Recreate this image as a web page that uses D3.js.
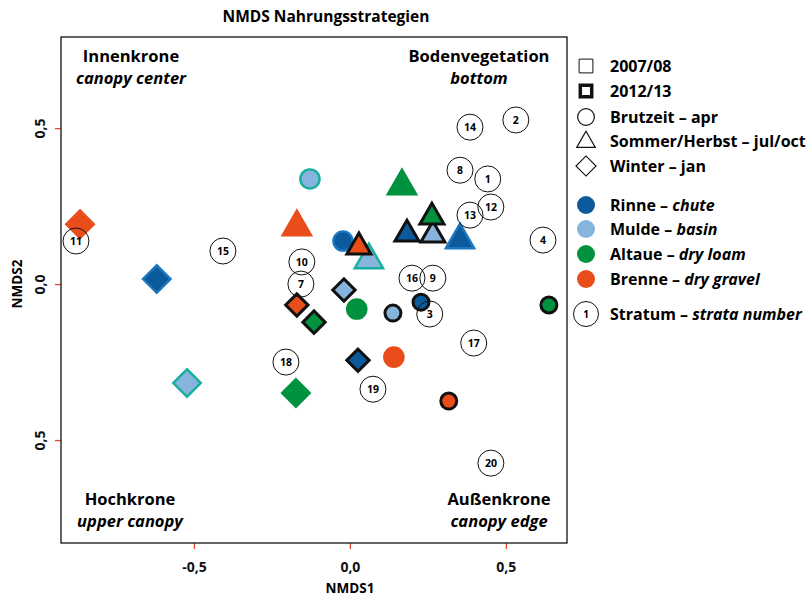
<!DOCTYPE html>
<html>
<head>
<meta charset="utf-8">
<script src="https://cdn.jsdelivr.net/npm/d3@7"></script>
<style>
  body { margin: 0; background: #fff; }
  svg { font-family: "Open Sans", "Noto Sans", sans-serif; }
</style>
</head>
<body>
<svg width="810" height="599"></svg>
<script>
// habitats and colours
var habitats = ["Rinne", "Mulde", "Altaue", "Brenne"];
var habitatEn = ["chute", "basin", "dry loam", "dry gravel"];
var fillColor = { Rinne: "#0b5a9b", Mulde: "#86b4dc", Altaue: "#00923f", Brenne: "#e94d1a" };
var rimColor = { Rinne: "#1c77bf", Mulde: "#16ae9c", Altaue: "#00923f", Brenne: "#e94d1a" };

// NMDS scores per season: [habitat, year, NMDS1, NMDS2]
var brutzeit = [
  ["Mulde", "2007/08", -0.128, 0.337],
  ["Rinne", "2007/08", -0.022, 0.138],
  ["Altaue", "2007/08", 0.022, -0.080],
  ["Brenne", "2007/08", 0.141, -0.234],
  ["Mulde", "2012/13", 0.138, -0.093],
  ["Rinne", "2012/13", 0.228, -0.058],
  ["Altaue", "2012/13", 0.638, -0.067],
  ["Brenne", "2012/13", 0.317, -0.375]
];
var sommer = [
  ["Brenne", "2007/08", -0.170, 0.183],
  ["Mulde", "2007/08", 0.061, 0.077],
  ["Altaue", "2007/08", 0.167, 0.314],
  ["Rinne", "2007/08", 0.353, 0.141],
  ["Brenne", "2012/13", 0.029, 0.119],
  ["Rinne", "2012/13", 0.183, 0.160],
  ["Mulde", "2012/13", 0.266, 0.157],
  ["Altaue", "2012/13", 0.263, 0.215]
];
var winter = [
  ["Brenne", "2007/08", -0.865, 0.192],
  ["Rinne", "2007/08", -0.619, 0.016],
  ["Mulde", "2007/08", -0.522, -0.317],
  ["Altaue", "2007/08", -0.173, -0.349],
  ["Brenne", "2012/13", -0.170, -0.067],
  ["Altaue", "2012/13", -0.115, -0.122],
  ["Mulde", "2012/13", -0.019, -0.019],
  ["Rinne", "2012/13", 0.026, -0.244]
];

// strata numbers: [number, NMDS1, NMDS2]
var strata = [
  [1, 0.442, 0.337], [2, 0.532, 0.526], [3, 0.256, -0.096], [4, 0.619, 0.141],
  [7, -0.157, 0.000], [8, 0.353, 0.365], [9, 0.266, 0.019], [10, -0.154, 0.071],
  [11, -0.878, 0.138], [12, 0.452, 0.247], [13, 0.385, 0.221], [14, 0.385, 0.503],
  [15, -0.407, 0.106], [16, 0.199, 0.019], [17, 0.397, -0.189], [18, -0.205, -0.250],
  [19, 0.074, -0.337], [20, 0.452, -0.574]
];

var xTicks = [-0.5, 0, 0.5];
var xTickLabels = ["-0,5", "0,0", "0,5"];
var yTicks = [0.5, 0, -0.5];
var yTickLabels = ["0,5", "0,0", "0,5"];

var svg = d3.select("svg");
var plot = { left: 61, top: 37, right: 567, bottom: 543 };

var x = d3.scaleLinear().domain([-0.926, 0.696]).range([plot.left, plot.right]);
var y = d3.scaleLinear().domain([-0.830, 0.792]).range([plot.bottom, plot.top]);

svg.append("text")
    .attr("x", 326).attr("y", 22)
    .attr("text-anchor", "middle")
    .attr("font-size", 15.5).attr("font-weight", 700)
    .text("NMDS Nahrungsstrategien");

// axes with red ticks
var xAxis = svg.append("g")
    .attr("transform", "translate(0," + plot.bottom + ")")
    .call(d3.axisBottom(x).tickValues(xTicks).tickSize(6).tickPadding(8)
        .tickFormat((d, i) => xTickLabels[i]));
var yAxis = svg.append("g")
    .attr("transform", "translate(" + plot.left + ",0)")
    .call(d3.axisLeft(y).tickValues(yTicks).tickSize(6).tickPadding(8)
        .tickFormat((d, i) => yTickLabels[i]));

[xAxis, yAxis].forEach(g => {
    g.select(".domain").remove();
    g.selectAll(".tick line").attr("stroke", "#e8472b").attr("stroke-width", 1.3);
    g.selectAll(".tick text").attr("font-size", 14).attr("font-weight", 700)
        .attr("font-family", "Open Sans").attr("fill", "#111");
});
yAxis.selectAll(".tick text")
    .attr("text-anchor", "middle")
    .attr("dy", null)
    .attr("x", null)
    .attr("transform", "translate(-16,0) rotate(-90)");
xAxis.selectAll(".tick text").attr("dy", "1.1em");

svg.append("rect")
    .attr("x", plot.left).attr("y", plot.top)
    .attr("width", plot.right - plot.left).attr("height", plot.bottom - plot.top)
    .attr("fill", "none").attr("stroke", "#111").attr("stroke-width", 1.3);

svg.append("text")
    .attr("x", 350).attr("y", 593)
    .attr("text-anchor", "middle")
    .attr("font-size", 13.5).attr("font-weight", 700)
    .text("NMDS1");
svg.append("text")
    .attr("transform", "translate(22,284) rotate(-90)")
    .attr("text-anchor", "middle")
    .attr("font-size", 13.5).attr("font-weight", 700)
    .text("NMDS2");

// corner labels
var corners = [
  ["Innenkrone", "canopy center", 131, 62],
  ["Bodenvegetation", "bottom", 479, 62],
  ["Hochkrone", "upper canopy", 130, 505],
  ["Außenkrone", "canopy edge", 499, 505]
];
corners.forEach(c => {
    var t = svg.append("text").attr("text-anchor", "middle").attr("font-size", 16.5);
    t.append("tspan").attr("x", c[2]).attr("y", c[3]).attr("font-weight", 700).text(c[0]);
    t.append("tspan").attr("x", c[2]).attr("y", c[3] + 22).attr("font-style", "italic")
        .attr("font-weight", 700).text(c[1]);
});

// marker shapes
function shapePath(shape, thick) {
    if (shape == "circle") return d3.symbol(d3.symbolCircle, thick ? 200 : 290)();
    if (shape == "triangle") return d3.symbol(d3.symbolTriangle, thick ? 250 : 350)();
    return d3.symbol(d3.symbolSquare, thick ? 250 : 380)();
}

var seasons = [["circle", brutzeit], ["triangle", sommer], ["diamond", winter]];
var marks = [];
seasons.forEach(s => s[1].forEach(d => marks.push({
    shape: s[0], habitat: d[0], year: d[1], x: d[2], y: d[3]
})));
// thin ones below, thick ones on top
marks.sort((a, b) => (a.year > b.year) - (a.year < b.year));

svg.append("g").selectAll("path")
    .data(marks)
    .join("path")
    .attr("d", d => shapePath(d.shape, d.year == "2012/13"))
    .attr("transform", d => "translate(" + x(d.x) + "," + y(d.y) + ")" + (d.shape == "diamond" ? " rotate(45)" : ""))
    .attr("fill", d => fillColor[d.habitat])
    .attr("stroke", d => d.year == "2012/13" ? "#111" : rimColor[d.habitat])
    .attr("stroke-width", d => d.year == "2012/13" ? 3 : 2.4)
    .attr("stroke-linejoin", "miter");

// strata circles
var st = svg.append("g").selectAll("g")
    .data(strata)
    .join("g")
    .attr("transform", d => "translate(" + x(d[1]) + "," + y(d[2]) + ")");
st.append("circle").attr("r", 13).attr("fill", "none").attr("stroke", "#111").attr("stroke-width", 1);
st.append("text")
    .attr("text-anchor", "middle").attr("dy", "0.36em")
    .attr("font-size", 10.5).attr("font-weight", 700)
    .text(d => d[0]);

// legend
var legend = svg.append("g").attr("font-size", 16).attr("font-weight", 700);
var lx = 586, tx = 610;

var legendShapes = [
  { label: "2007/08", y: 66, shape: "square", sw: 1 },
  { label: "2012/13", y: 91, shape: "square", sw: 3.5 },
  { label: "Brutzeit – apr", y: 117, shape: "circle", sw: 1.2 },
  { label: "Sommer/Herbst – jul/oct", y: 141, shape: "triangle", sw: 1.2 },
  { label: "Winter – jan", y: 166, shape: "diamond", sw: 1.2 }
];
legendShapes.forEach(l => {
    var p = legend.append("path").attr("fill", "none").attr("stroke", "#111").attr("stroke-width", l.sw);
    if (l.shape == "square") p.attr("d", d3.symbol(d3.symbolSquare, l.sw > 2 ? 130 : 190)()).attr("transform", "translate(" + lx + "," + l.y + ")");
    if (l.shape == "circle") p.attr("d", d3.symbol(d3.symbolCircle, 220)()).attr("transform", "translate(" + lx + "," + l.y + ")");
    if (l.shape == "triangle") p.attr("d", d3.symbol(d3.symbolTriangle, 150)()).attr("transform", "translate(" + lx + "," + (l.y + 1) + ")");
    if (l.shape == "diamond") p.attr("d", d3.symbol(d3.symbolSquare, 200)()).attr("transform", "translate(" + lx + "," + l.y + ") rotate(45)");
    legend.append("text").attr("x", tx).attr("y", l.y).attr("dy", "0.35em").text(l.label);
});

var habY = [205, 229, 254, 279];
habitats.forEach((h, i) => {
    legend.append("circle").attr("cx", lx).attr("cy", habY[i]).attr("r", 9).attr("fill", fillColor[h]);
    var t = legend.append("text").attr("x", tx).attr("y", habY[i]).attr("dy", "0.35em");
    t.append("tspan").text(h + " – ");
    t.append("tspan").attr("font-style", "italic").text(habitatEn[i]);
});

legend.append("circle").attr("cx", 586).attr("cy", 314).attr("r", 12.5)
    .attr("fill", "none").attr("stroke", "#111").attr("stroke-width", 1);
legend.append("text").attr("x", 586).attr("y", 314).attr("dy", "0.36em")
    .attr("text-anchor", "middle").attr("font-size", 10).attr("font-weight", 700).text("1");
var stt = legend.append("text").attr("x", tx).attr("y", 314).attr("dy", "0.35em");
stt.append("tspan").text("Stratum – ");
stt.append("tspan").attr("font-style", "italic").text("strata number");
</script>
</body>
</html>
